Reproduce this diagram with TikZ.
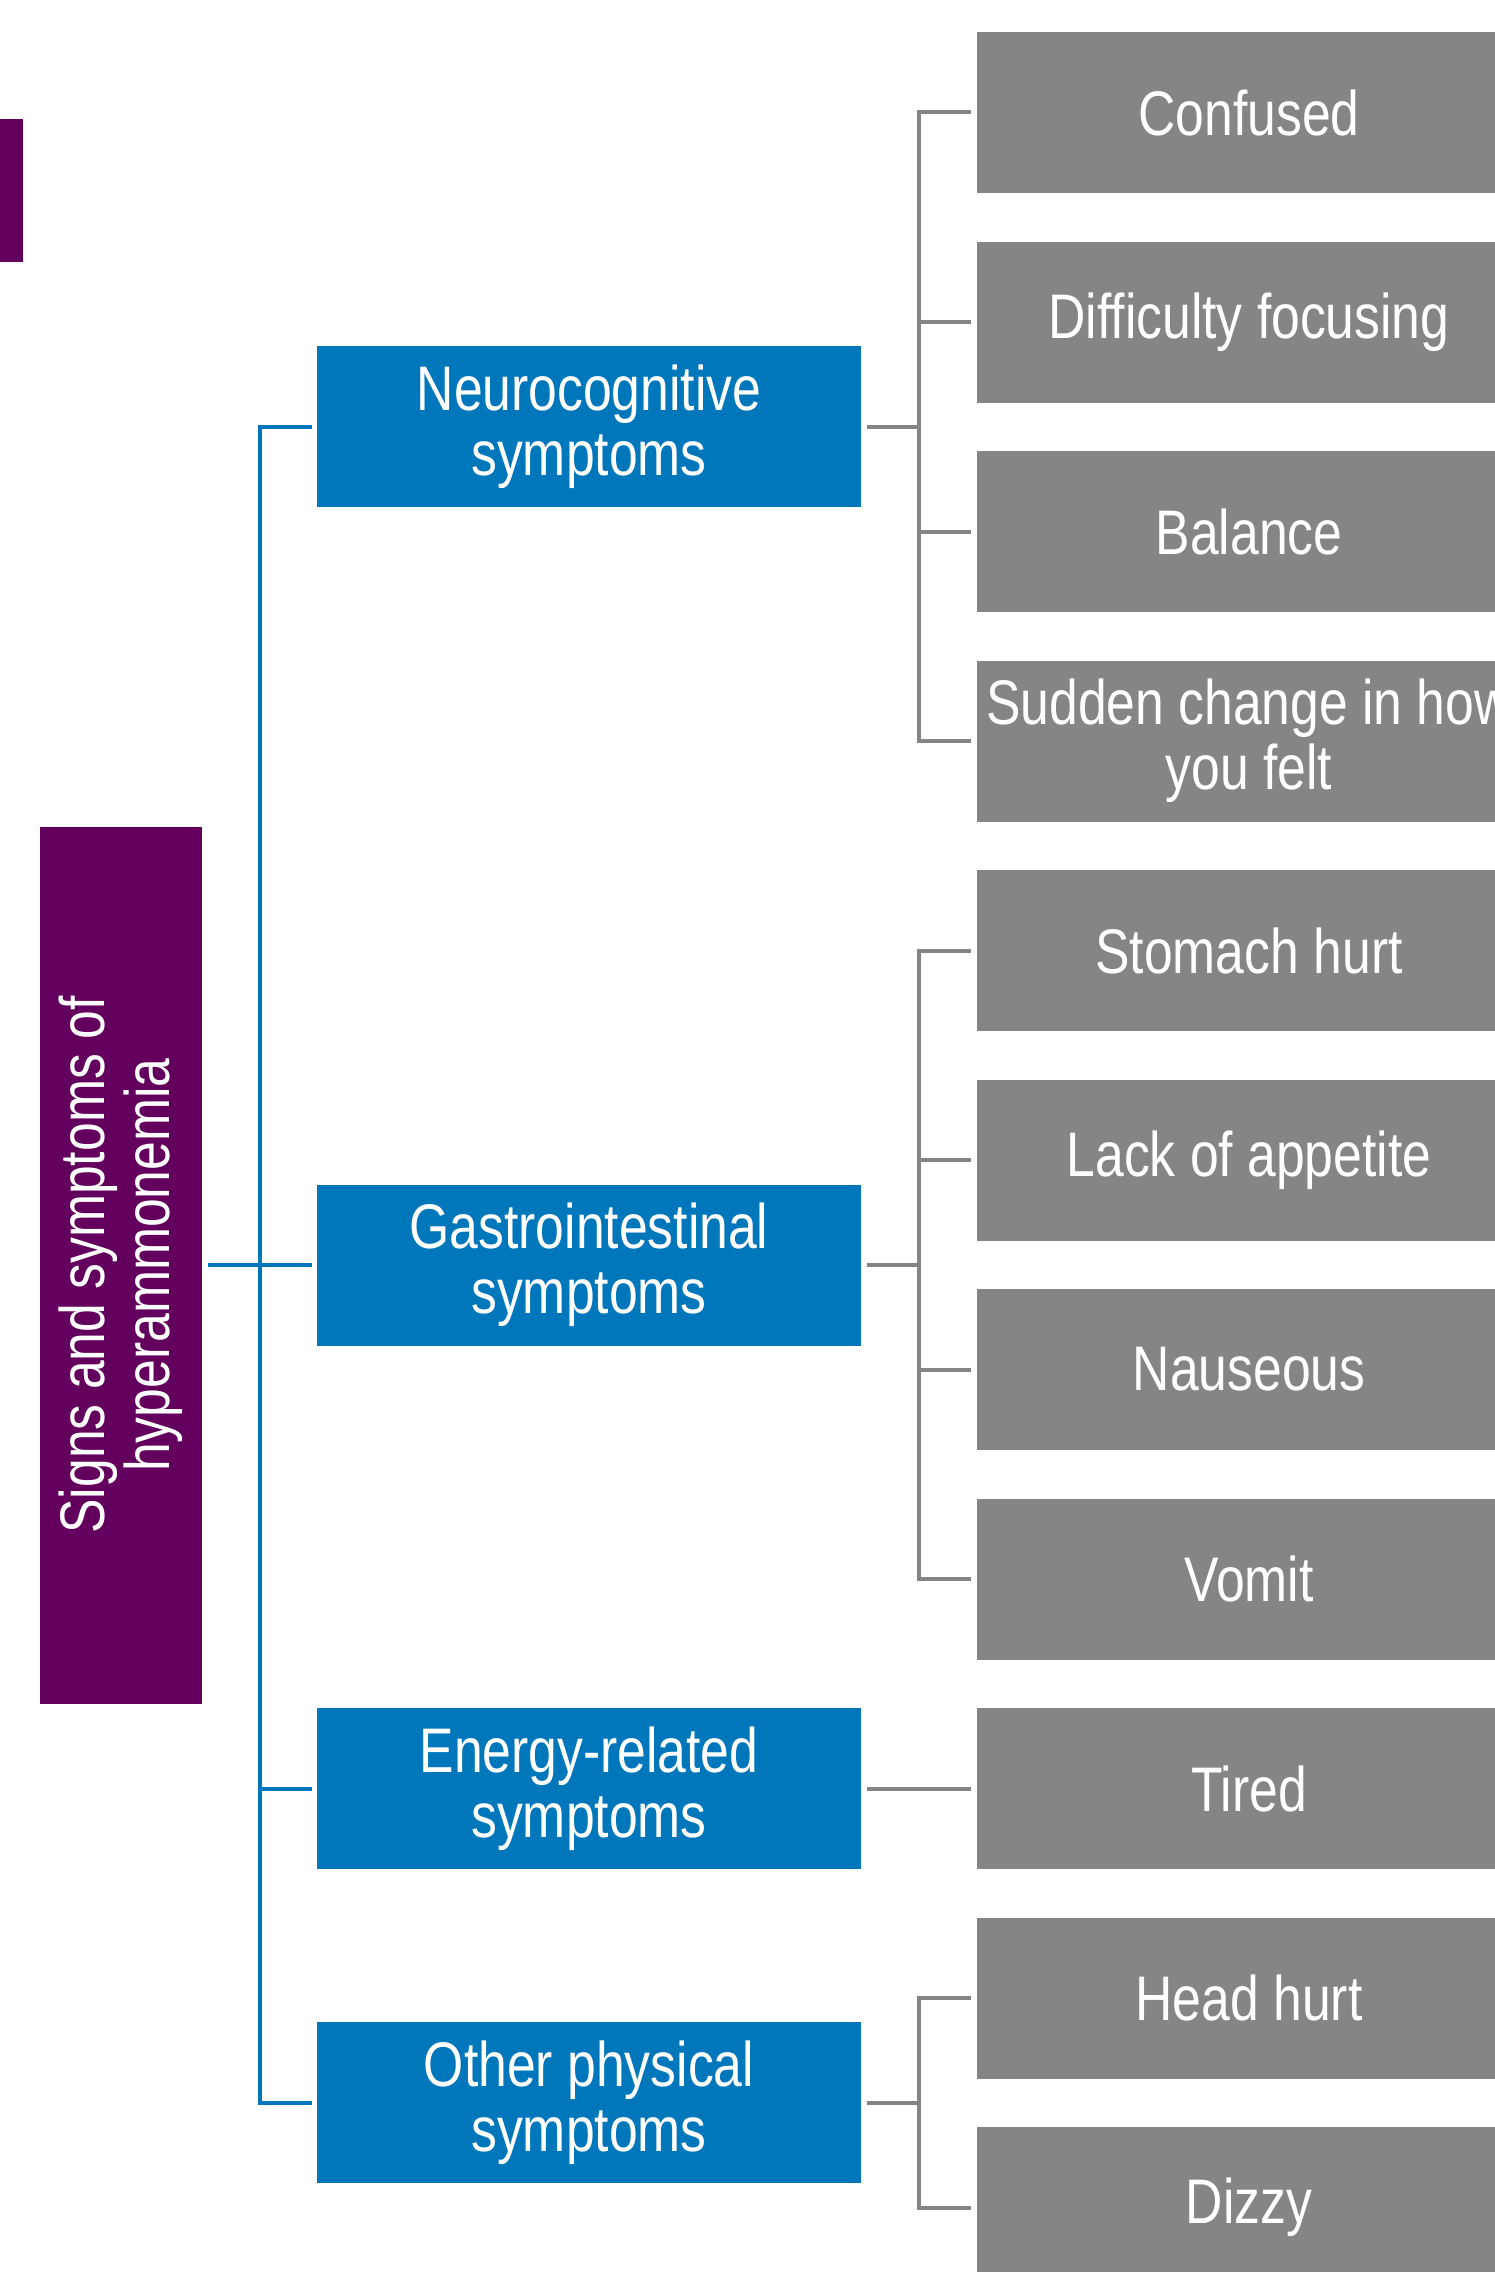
\documentclass[tikz,border=0pt]{standalone}
\usepackage{fontspec}
\setmainfont{Liberation Sans}[FakeStretch=0.82]
\definecolor{hpurple}{RGB}{99,0,94}
\definecolor{hblue}{RGB}{0,119,187}
\definecolor{hgray}{RGB}{134,133,131}
\begin{document}
\begin{tikzpicture}[x=1pt,y=-1pt,
  boxfont/.style={font=\fontsize{63}{65}\selectfont},
  catbox/.style={fill=hblue, text=white, minimum width=544pt, minimum height=161pt, inner sep=0pt, align=center, boxfont},
  itembox/.style={fill=hgray, text=white, minimum width=544pt, minimum height=161pt, inner sep=0pt, align=center, boxfont},
  bline/.style={draw=hblue, line width=4pt},
  gline/.style={draw=hgray, line width=4pt},
]
\useasboundingbox (0,0) rectangle (1494,2272);
% tab
\node[fill=hpurple, minimum width=23pt, minimum height=143pt, inner sep=0pt, anchor=north west] (tab) at (0,119) {};
% root
\node[fill=hpurple, minimum width=162pt, minimum height=877pt, inner sep=0pt] (root) at (121,1265) {};
\node[rotate=90, text=white, align=center, inner sep=0pt, boxfont] (roottext) at (root.center) {Signs and symptoms of\\hyperammonemia};
% categories
\node[catbox] (neuro) at (589,426.75) {Neurocognitive\\symptoms};
\node[catbox] (gastro) at (589,1265) {Gastrointestinal\\symptoms};
\node[catbox] (energy) at (589,1788.5) {Energy-related\\symptoms};
\node[catbox] (other) at (589,2102.75) {Other physical\\symptoms};
% items
\node[itembox] (confused) at (1249,112.5) {Confused};
\node[itembox] (difficulty) at (1249,322) {Difficulty focusing};
\node[itembox] (balance) at (1249,531.5) {Balance};
\node[itembox] (sudden) at (1249,741) {Sudden change in how\\you felt};
\node[itembox] (stomach) at (1249,950.5) {Stomach hurt};
\node[itembox] (appetite) at (1249,1160) {Lack of appetite};
\node[itembox] (nauseous) at (1249,1369.5) {Nauseous};
\node[itembox] (vomit) at (1249,1579) {Vomit};
\node[itembox] (tired) at (1249,1788.5) {Tired};
\node[itembox] (head) at (1249,1998) {Head hurt};
\node[itembox] (dizzy) at (1249,2207.5) {Dizzy};
% blue connectors
\coordinate (bx) at (260,0);
\draw[bline] ([xshift=-5pt]neuro.west) -- (bx |- neuro.west) -- (bx |- other.west) -- ([xshift=-5pt]other.west);
\draw[bline] ([xshift=6pt]root.east) -- ([xshift=-5pt]gastro.west);
\draw[bline] (bx |- energy.west) -- ([xshift=-5pt]energy.west);
% gray connectors
\coordinate (gx) at (919,0);
\draw[gline] ([xshift=6pt]neuro.east) -- (gx |- neuro.east);
\draw[gline] ([xshift=-6pt]confused.west) -- (gx |- confused.west) -- (gx |- sudden.west) -- ([xshift=-6pt]sudden.west);
\draw[gline] (gx |- difficulty.west) -- ([xshift=-6pt]difficulty.west);
\draw[gline] (gx |- balance.west) -- ([xshift=-6pt]balance.west);
\draw[gline] ([xshift=6pt]gastro.east) -- (gx |- gastro.east);
\draw[gline] ([xshift=-6pt]stomach.west) -- (gx |- stomach.west) -- (gx |- vomit.west) -- ([xshift=-6pt]vomit.west);
\draw[gline] (gx |- appetite.west) -- ([xshift=-6pt]appetite.west);
\draw[gline] (gx |- nauseous.west) -- ([xshift=-6pt]nauseous.west);
\draw[gline] ([xshift=6pt]energy.east) -- ([xshift=-6pt]tired.west);
\draw[gline] ([xshift=6pt]other.east) -- (gx |- other.east);
\draw[gline] ([xshift=-6pt]head.west) -- (gx |- head.west) -- (gx |- dizzy.west) -- ([xshift=-6pt]dizzy.west);
\end{tikzpicture}
\end{document}
